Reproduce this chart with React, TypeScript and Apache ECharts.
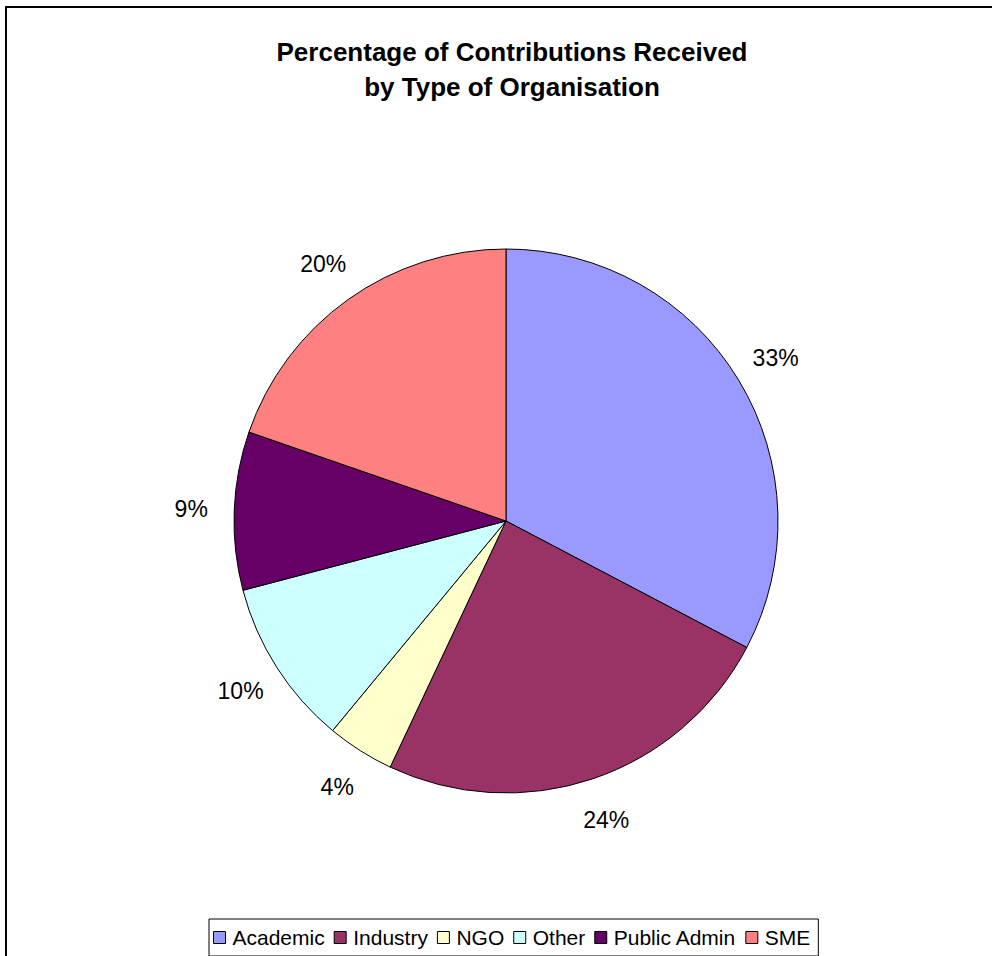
import React, { useEffect, useRef } from "react";
import * as echarts from "echarts";

const categories = ["Academic", "Industry", "NGO", "Other", "Public Admin", "SME"];
const values = [32.7, 24.3, 4.0, 9.9, 9.4, 19.7];
const colors = ["#9999FF", "#993366", "#FFFFCC", "#CCFFFF", "#660066", "#FF8080"];
const titleLines = ["Percentage of Contributions Received", "by Type of Organisation"];

const FONT = "'Liberation Sans', Arial, sans-serif";

export default function App() {
  const ref = useRef<HTMLDivElement>(null);
  useEffect(() => {
    document.body.style.margin = "0";
    if (!ref.current) return;
    const chart = echarts.init(ref.current, undefined, { renderer: "svg" });
    const data = categories.map((name, i) => ({
      name,
      value: values[i],
      itemStyle: { color: colors[i] },
    }));
    chart.setOption({
      animation: false,
      backgroundColor: "#ffffff",
      title: {
        text: titleLines.join("\n"),
        left: 507,
        top: 29,
        textAlign: "center",
        textStyle: {
          fontFamily: FONT,
          fontSize: 26,
          fontWeight: "bold",
          color: "#000",
          lineHeight: 35,
        },
      },
      legend: {
        data: categories,
        bottom: 0,
        left: 209,
        orient: "horizontal",
        icon: "rect",
        itemWidth: 12,
        itemHeight: 12,
        itemGap: 9,
        padding: [8, 8, 8, 4],
        borderColor: "#000",
        borderWidth: 1,
        itemStyle: { borderColor: "#000", borderWidth: 1 },
        textStyle: { fontFamily: FONT, fontSize: 21, color: "#000", padding: [0, 0, 0, 2] },
      },
      graphic: [
        {
          type: "rect",
          shape: { x: 6, y: 7, width: 1000, height: 1000 },
          style: { fill: "none", stroke: "#000", lineWidth: 2 },
          silent: true,
        },
      ],
      series: [
        {
          type: "pie",
          center: [506, 521],
          radius: [0, 272],
          startAngle: 90,
          clockwise: true,
          data,
          label: { show: false },
          labelLine: { show: false },
          itemStyle: { borderColor: "#000", borderWidth: 1 },
          emphasis: { disabled: true },
          silent: true,
        },
        {
          type: "pie",
          center: [506, 521],
          radius: [298, 326],
          startAngle: 90,
          clockwise: true,
          data: categories.map((name, i) => ({ name, value: values[i] })),
          itemStyle: { color: "transparent", borderWidth: 0 },
          label: {
            show: true,
            position: "inside",
            fontFamily: FONT,
            fontSize: 23,
            color: "#000",
            formatter: (p: any) => Math.round(p.value) + "%",
          },
          labelLine: { show: false },
          emphasis: { disabled: true },
          silent: true,
          legendHoverLink: false,
        },
      ],
    });
    return () => chart.dispose();
  }, []);
  return <div ref={ref} style={{ width: 992, height: 956 }} />;
}
